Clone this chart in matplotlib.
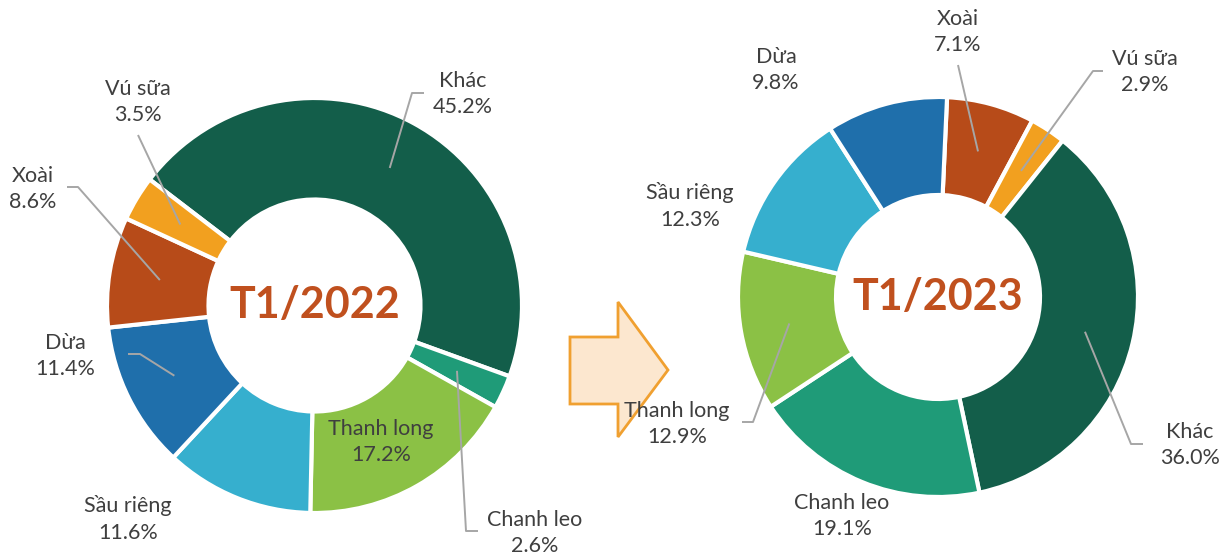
import numpy as np
import matplotlib.pyplot as plt
from matplotlib.patches import Polygon

plt.rcParams['font.family'] = ['Lato', 'DejaVu Sans']

# --- Data ---
left_labels = ["Khác", "Chanh leo", "Thanh long", "Sầu riêng", "Dừa", "Xoài", "Vú sữa"]
left_values = [45.2, 2.6, 17.2, 11.6, 11.4, 8.6, 3.5]

right_labels = ["Xoài", "Vú sữa", "Khác", "Chanh leo", "Thanh long", "Sầu riêng", "Dừa"]
right_values = [7.1, 2.9, 36.0, 19.1, 12.9, 12.3, 9.8]

colors = {
    "Khác": "#135E4A",
    "Chanh leo": "#1F9B78",
    "Thanh long": "#8BC145",
    "Sầu riêng": "#36AFCE",
    "Dừa": "#1F6FAB",
    "Xoài": "#B74B19",
    "Vú sữa": "#F2A01F",
}

W, H = 1222, 558
TEXT = "#3F3F3F"
LEAD = "#A6A6A6"
TITLE = "#C0501E"


def iy(y):
    # image y (top-down) -> axes y
    return H - y


# layout: label centre, optional leader path (image px) after the wedge anchor
left_layout = {
    "Khác": ((463, 94), [(412, 93), (424, 93)]),
    "Vú sữa": ((138, 102), [(138, 135)]),
    "Xoài": ((33, 189), [(78, 187), (67, 187)]),
    "Dừa": ((65, 356), [(140, 354), (128, 354)]),
    "Sầu riêng": ((128, 519), None),
    "Thanh long": ((381, 442), None),
    "Chanh leo": ((535, 533), [(466, 531), (478, 531)]),
}
right_layout = {
    "Dừa": ((776, 70), None),
    "Xoài": ((958, 32), [(958, 65)]),
    "Vú sữa": ((1145, 72), [(1093, 71), (1103, 71)]),
    "Sầu riêng": ((690, 206), None),
    "Thanh long": ((677, 424), [(753, 422), (742, 422)]),
    "Chanh leo": ((842, 516), None),
    "Khác": ((1190, 445), [(1131, 444), (1143, 444)]),
}

fig = plt.figure(figsize=(W / 100, H / 100), dpi=100)
ax = fig.add_axes([0, 0, 1, 1])


def donut(labels, values, center, r_out, r_in, start, layout, title):
    cx, cy = center
    wedges, _ = ax.pie(values, colors=[colors[l] for l in labels], startangle=start,
                       counterclock=False, center=(cx, iy(cy)), radius=r_out, frame=True,
                       wedgeprops=dict(width=r_out - r_in, edgecolor="white", linewidth=3))
    r_mid = (r_out + r_in) / 2
    for w, lab, val in zip(wedges, labels, values):
        (tx, ty), path = layout[lab]
        ax.text(tx, iy(ty), f"{lab}\n{val:.1f}%", ha="center", va="center",
                fontsize=15.5, color=TEXT, linespacing=1.42, zorder=5)
        if path:
            th = np.deg2rad((w.theta1 + w.theta2) / 2)
            xs = [cx + r_mid * np.cos(th)] + [p[0] for p in path]
            ys = [iy(cy) + r_mid * np.sin(th)] + [iy(p[1]) for p in path]
            ax.plot(xs, ys, color=LEAD, lw=1.4, zorder=4, solid_capstyle="butt")
    ax.text(cx, iy(cy), title, ha="center", va="center", fontsize=31,
            fontweight="bold", color=TITLE, zorder=6)


donut(left_labels, left_values, (314.5, 305.5), 207.5, 106, 142.6, left_layout, "T1/2022")
donut(right_labels, right_values, (938, 297), 200, 102, 87.4, right_layout, "T1/2023")

# block arrow between the two donuts
arrow = [(570, 337), (618, 337), (618, 302), (668, 370), (618, 437), (618, 404), (570, 404)]
ax.add_patch(Polygon([(x, iy(y)) for x, y in arrow], closed=True,
                     facecolor="#FCE7CF", edgecolor="#F0A030", linewidth=2, zorder=3))

ax.set_xlim(0, W)
ax.set_ylim(0, H)
ax.set_aspect("auto")
ax.axis("off")

fig.savefig("out.png", dpi=100)
